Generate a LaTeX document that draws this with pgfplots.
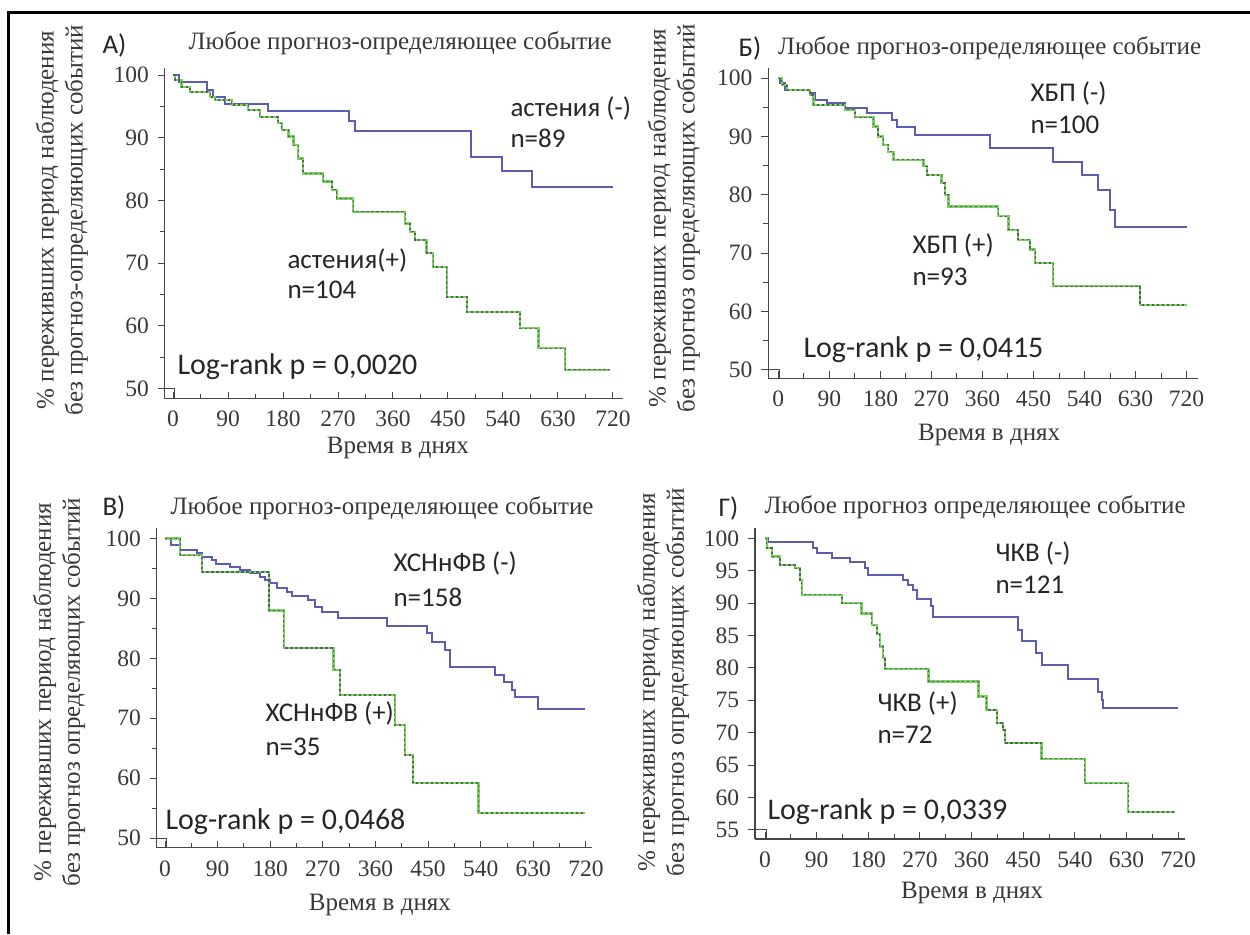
\documentclass[border=0pt]{standalone}
\usepackage{fontspec}
\setmainfont{Liberation Serif}
\newfontfamily\carl{Carlito}
\usepackage{pgfplots}
\usepackage{pgfplotstable}
\pgfplotsset{compat=1.18}

\definecolor{kmblue}{RGB}{92,92,178}
\definecolor{kmgreen}{RGB}{125,205,100}
\definecolor{kmdash}{RGB}{70,110,70}
\definecolor{axgray}{RGB}{70,70,70}

% A) астения
\pgfplotstableread{
d s
0 100
10 98.9
55 97.6
65 96.5
85 95.4
156 94.2
288 92.6
298 91.0
488 86.9
538 84.7
588 82.2
720 82.2
}\Aneg
\pgfplotstableread{
d s
0 100
3 99.2
14 98.1
28 97.3
61 96.5
69 96.0
96 95.2
123 94.4
142 93.3
172 92.3
178 91.2
189 90.2
197 88.8
205 86.7
213 84.3
246 83.0
260 81.7
268 80.3
295 78.2
380 76.3
388 75.0
396 73.7
415 71.6
426 69.4
448 64.6
481 62.2
568 59.6
598 56.4
642 53.0
715 53.0
}\Apos
% Б) ХБП
\pgfplotstableread{
d s
0 100
3 99.1
12 98.0
56 97.4
65 96.3
85 95.7
118 94.9
156 94.0
200 92.9
209 91.7
241 90.3
373 88.0
485 85.7
535 83.4
564 80.9
585 77.4
594 74.5
720 74.5
}\Bneg
\pgfplotstableread{
d s
0 100
6 98.9
15 98.0
56 97.1
62 95.4
118 94.6
135 93.3
168 91.7
176 90.0
185 88.6
194 87.4
203 86.0
256 84.9
262 83.4
288 82.0
294 80.0
300 78.0
388 76.3
406 74.0
423 72.3
444 70.6
453 68.3
485 64.3
638 61.1
720 61.1
}\Bpos
% В) ХСНнФВ
\pgfplotstableread{
d s
0 100
11 98.9
26 98.1
54 97.5
63 96.9
80 96.4
88 95.8
111 95.3
128 94.7
145 94.2
162 93.6
171 93.1
180 92.5
191 91.8
208 91.1
217 90.4
245 89.7
257 88.6
268 87.8
296 86.7
379 85.4
448 84.2
456 82.8
479 81.4
487 78.6
564 77.2
579 76.1
593 74.7
599 73.6
638 71.5
718 71.5
}\Cneg
\pgfplotstableread{
d s
0 100
26 97.2
63 94.4
178 88.0
203 81.7
288 78.1
299 73.9
393 68.9
410 63.9
424 59.2
536 54.2
718 54.2
}\Cpos
% Г) ЧКВ
\pgfplotstableread{
d s
0 100
6 99.5
84 98.5
90 97.7
116 96.9
148 96.4
174 95.4
180 94.3
241 93.6
250 92.8
258 92.0
264 90.7
290 89.5
293 87.9
441 85.9
447 84.1
473 82.3
482 80.5
528 78.3
581 76.3
587 75.1
589 73.8
720 73.8
}\Dneg
\pgfplotstableread{
d s
0 100
3 98.5
12 97.2
26 95.9
52 95.4
61 93.6
64 91.3
134 90.0
168 88.4
186 86.6
195 85.3
200 83.3
206 81.5
209 79.9
285 77.9
372 75.6
386 73.5
404 71.5
415 70.4
418 68.4
482 66.0
557 62.2
633 57.8
714 57.8
}\Dpos

\pgfplotsset{
  km/.style={
    scale only axis,
    axis lines=left,
    axis line style={-, axgray, line width=0.5pt},
    xtick={0,90,...,720}, minor x tick num=1,
    xtick align=inside, ytick align=outside,
    major tick length=2.8pt, minor tick length=2pt,
    tick style={axgray, line width=0.4pt},
    ticklabel style={font=\fontsize{9.4}{11}\selectfont, text=black!78},
    xticklabel style={yshift=-1.6pt},
    /pgf/number format/assume math mode=true,
    xlabel={Время в днях},
  },
  neg/.style={const plot, kmblue, line width=0.8pt},
  posbase/.style={const plot, kmgreen, line width=0.9pt},
  posdash/.style={const plot, kmdash, line width=0.55pt, dash pattern=on 0.9pt off 1.1pt},
}
\newcommand{\lblfont}{\fontsize{10}{11.6}\selectfont}
\newcommand{\grp}{\carl\fontsize{10.8}{13}\selectfont}
\newcommand{\lrk}{\carl\fontsize{12}{14}\selectfont}

\begin{document}
\begin{tikzpicture}
\begin{scope}[x=0.4pt,y=-0.4pt]
\useasboundingbox (0,0) rectangle (1250,934);
\draw[line width=1.5pt] (8.5,934) -- (8.5,12.5) -- (1250,12.5);
\end{scope}

% A
\begin{axis}[km, at={(65.92pt,-159.4pt)}, anchor=south west,
  width=183.16pt, height=132.16pt,
  xmin=-13.5, xmax=736, ymin=48.4, ymax=101.1,
  ytick={50,60,...,100}, minor y tick num=1,
  title={Любое прогноз-определяющее событие},
  every axis title/.style={at={(axis description cs:0.514,1.076)}, anchor=center, font=\lblfont, text=black!78},
  every axis x label/.style={at={(axis description cs:0.509,-0.150)}, anchor=center, font=\lblfont, text=black!78},
  every axis y label/.style={at={(axis description cs:-0.225,0.54)}, anchor=center, rotate=90, align=center, font=\lblfont, text=black!78},
  ylabel={\% переживших период наблюдения\\без прогноз-определяющих событий},
]
\addplot[neg] table[x=d,y=s] {\Aneg};
\addplot[posbase] table[x=d,y=s] {\Apos};
\addplot[posdash] table[x=d,y=s] {\Apos};
\draw[axgray, line width=0.4pt] (axis cs:-13.5,50) -| (axis cs:2,48.4);
\end{axis}

% Б
\begin{axis}[km, at={(307.32pt,-151.32pt)}, anchor=south west,
  width=171.84pt, height=124pt,
  xmin=-17.6, xmax=740, ymin=48.5, ymax=101.7,
  ytick={50,60,...,100}, minor y tick num=1,
  title={Любое прогноз-определяющее событие},
  every axis title/.style={at={(axis description cs:0.515,1.066)}, anchor=center, font=\lblfont, text=black!78},
  every axis x label/.style={at={(axis description cs:0.514,-0.183)}, anchor=center, font=\lblfont, text=black!78},
  every axis y label/.style={at={(axis description cs:-0.22,0.517)}, anchor=center, rotate=90, align=center, font=\lblfont, text=black!78},
  ylabel={\% переживших период наблюдения\\без прогноз определяющих событий},
]
\addplot[neg] table[x=d,y=s] {\Bneg};
\addplot[posbase] table[x=d,y=s] {\Bpos};
\addplot[posdash] table[x=d,y=s] {\Bpos};
\draw[axgray, line width=0.4pt] (axis cs:-17.6,50) -| (axis cs:2,48.5);
\end{axis}

% В
\begin{axis}[km, at={(62.68pt,-339.08pt)}, anchor=south west,
  width=174.04pt, height=127.76pt,
  xmin=-14.2, xmax=730, ymin=48.4, ymax=101.7,
  ytick={50,60,...,100}, minor y tick num=1,
  title={Любое прогноз-определяющее событие},
  every axis title/.style={at={(axis description cs:0.518,1.064)}, anchor=center, font=\lblfont, text=black!78},
  every axis x label/.style={at={(axis description cs:0.513,-0.179)}, anchor=center, font=\lblfont, text=black!78},
  every axis y label/.style={at={(axis description cs:-0.2245,0.487)}, anchor=center, rotate=90, align=center, font=\lblfont, text=black!78},
  ylabel={\% переживших период наблюдения\\без прогноз определяющих событий},
]
\addplot[neg] table[x=d,y=s] {\Cneg};
\addplot[posbase] table[x=d,y=s] {\Cpos};
\addplot[posdash] table[x=d,y=s] {\Cpos};
\draw[axgray, line width=0.4pt] (axis cs:-14.2,50) -| (axis cs:2,48.4);
\end{axis}

% Г
\begin{axis}[km, at={(302pt,-335.6pt)}, anchor=south west,
  width=172pt, height=124.4pt,
  xmin=-17.4, xmax=732, ymin=53.6, ymax=101.6,
  ytick={55,60,...,100},
  title={Любое прогноз определяющее событие},
  every axis title/.style={at={(axis description cs:0.512,1.0675)}, anchor=center, font=\lblfont, text=black!78},
  every axis x label/.style={at={(axis description cs:0.505,-0.174)}, anchor=center, font=\lblfont, text=black!78},
  every axis y label/.style={at={(axis description cs:-0.214,0.505)}, anchor=center, rotate=90, align=center, font=\lblfont, text=black!78},
  ylabel={\% переживших период наблюдения\\без прогноз определяющих событий},
]
\addplot[neg] table[x=d,y=s] {\Dneg};
\addplot[posbase] table[x=d,y=s] {\Dpos};
\addplot[posdash] table[x=d,y=s] {\Dpos};
\draw[axgray, line width=0.4pt] (axis cs:-17.4,55) -| (axis cs:2,53.6);
\end{axis}

\begin{scope}[x=0.4pt,y=-0.4pt, every node/.style={inner sep=0pt, anchor=west, text=black!85}]
% panel letters
\node[font=\grp] at (102,45) {А)};
\node[font=\grp] at (738,48) {Б)};
\node[font=\grp] at (102,507) {В)};
\node[font=\grp] at (718,508) {Г)};
% A
\node[font=\grp] at (510,108) {астения (-)};
\node[font=\grp] at (510,138) {n=89};
\node[font=\grp] at (287,260) {астения(+)};
\node[font=\grp] at (287,290) {n=104};
\node[font=\lrk] at (177,367) {Log-rank p = 0,0020};
% Б
\node[font=\grp] at (1030,93) {ХБП (-)};
\node[font=\grp] at (1030,125) {n=100};
\node[font=\grp] at (912,245) {ХБП (+)};
\node[font=\grp] at (912,277) {n=93};
\node[font=\lrk] at (803,350) {Log-rank p = 0,0415};
% В
\node[font=\grp] at (393,563) {ХСНнФВ (-)};
\node[font=\grp] at (393,597) {n=158};
\node[font=\grp] at (265,713) {ХСНнФВ (+)};
\node[font=\grp] at (265,747) {n=35};
\node[font=\lrk] at (165,822) {Log-rank p = 0,0468};
% Г
\node[font=\grp] at (995,553) {ЧКВ (-)};
\node[font=\grp] at (995,585) {n=121};
\node[font=\grp] at (877,703) {ЧКВ (+)};
\node[font=\grp] at (877,735) {n=72};
\node[font=\lrk] at (767,812) {Log-rank p = 0,0339};
\end{scope}
\end{tikzpicture}
\end{document}
